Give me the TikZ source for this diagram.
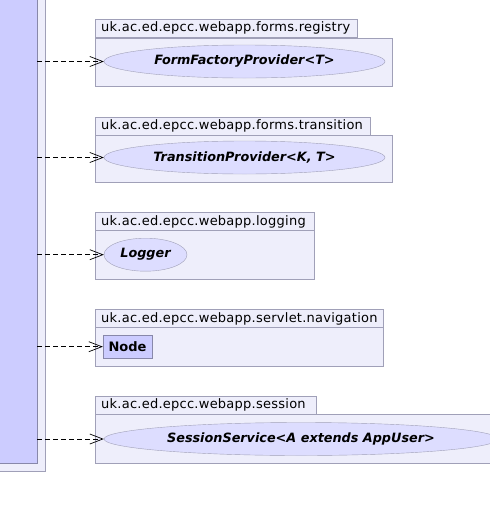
\documentclass[tikz,border=0pt]{standalone}
\usepackage{fontspec}
\setmainfont{DejaVu Sans}
\newfontfamily\pkgfont[LetterSpace=1.9]{DejaVu Sans}
\usetikzlibrary{arrows.meta,shapes.geometric}
\definecolor{pkgfill}{HTML}{EEEEFB}
\definecolor{pkgline}{HTML}{A0A0B8}
\definecolor{ifill}{HTML}{DDDDFF}
\definecolor{cfill}{HTML}{CCCCFF}
\definecolor{cline}{HTML}{8888AA}
\begin{document}
\begin{tikzpicture}[
    x=1pt, y=-1pt,
    every node/.style={
        font=\fontsize{13}{15}\selectfont
    },
    pkgtab/.style={
        draw=pkgline,
        fill=pkgfill,
        anchor=north west,
        minimum height=18,
        inner xsep=6pt,
        inner ysep=0pt,
        text width=#1,
        align=left,
        font=\fontsize{13}{15}\pkgfont
    },
    pkgbody/.style={
        draw=pkgline,
        fill=pkgfill,
        anchor=north west,
        inner sep=0pt
    },
    iface/.style={
        draw=pkgline,
        fill=ifill,
        ellipse,
        inner sep=0pt,
        minimum height=33,
        font=\fontsize{12.8}{15}\selectfont\bfseries\itshape
    },
    cls/.style={
        draw=cline,
        fill=cfill,
        inner sep=0pt,
        minimum width=49,
        minimum height=23,
        font=\fontsize{13}{15}\selectfont\bfseries
    },
    dep/.style={
        draw,
        line width=0.8pt,
        dash pattern=on 5pt off 3pt,
        -{Straight Barb[length=13pt,width=10pt,line width=0.7pt]}
    }
]
\useasboundingbox (0,0) rectangle (490,509);
\fill[white] (0,0) rectangle (490,509);

% left panel
\node[pkgbody, draw=pkgline, fill=pkgfill, minimum width=55, minimum height=481] (outer) at (-10,-10) {};
\node[pkgbody, draw=cline, fill=cfill, minimum width=47, minimum height=473] (inner) at (-10,-10) {};

% packages
\node[pkgbody, minimum width=297, minimum height=48.5] (regbody) at (95,37.5) {};
\node[pkgtab=250] (regtab) at (95,19) {uk.ac.ed.epcc.webapp.forms.registry};
\node[iface, minimum width=281] (reg) at (244.5,61.5) {FormFactoryProvider<T>};

\node[pkgbody, minimum width=297, minimum height=47.3] (trbody) at (95,134.7) {};
\node[pkgtab=263] (trtab) at (95,116.7) {uk.ac.ed.epcc.webapp.forms.transition};
\node[iface, minimum width=281] (tr) at (244.5,157.5) {TransitionProvider<K, T>};

\node[pkgbody, minimum width=219, minimum height=48.7] (logbody) at (95,230.3) {};
\node[pkgtab=207] (logtab) at (95,212.3) {uk.ac.ed.epcc.webapp.logging};
\node[iface, minimum width=83] (log) at (145.5,254.7) {Logger};

\node[pkgbody, minimum width=288, minimum height=39] (navbody) at (95,327) {};
\node[pkgtab=276] (navtab) at (95,309.3) {uk.ac.ed.epcc.webapp.servlet.navigation};
\node[cls] (nav) at (127.5,346.7) {Node};

\node[pkgbody, minimum width=420, minimum height=48.7] (sesbody) at (95,414) {};
\node[pkgtab=209] (sestab) at (95,396) {uk.ac.ed.epcc.webapp.session};
\node[iface, minimum width=394] (ses) at (301,439) {SessionService<A extends AppUser>};

% dependencies
\draw[dep] (inner.east |- reg) -- (reg.west);
\draw[dep] (inner.east |- tr) -- (tr.west);
\draw[dep] (inner.east |- log) -- (log.west);
\draw[dep] (inner.east |- nav) -- (nav.west);
\draw[dep] (inner.east |- ses) -- (ses.west);
\end{tikzpicture}
\end{document}
